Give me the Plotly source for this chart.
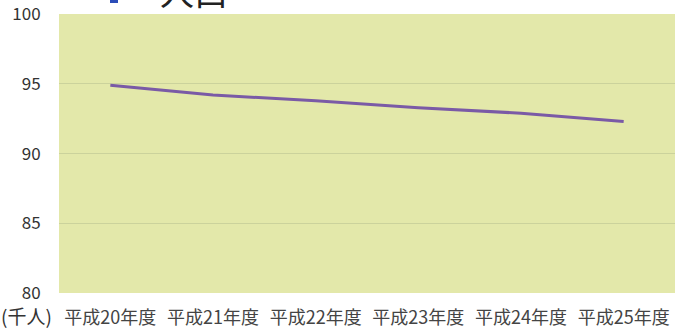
import plotly.graph_objects as go

categories = ["平成20年度", "平成21年度", "平成22年度", "平成23年度", "平成24年度", "平成25年度"]
population = [94.9, 94.2, 93.8, 93.3, 92.9, 92.3]
y_ticks = [80, 85, 90, 95, 100]

FONT = "Noto Sans CJK JP"
PW, PH = 616, 279  # plot width/height in px (for paper-relative offsets)

fig = go.Figure()
fig.add_trace(go.Scatter(
    x=categories, y=population, mode="lines",
    line=dict(color="#7A5AA6", width=3),
    showlegend=False,
))

fig.update_layout(
    width=682, height=332,
    margin=dict(l=59, r=7, t=14, b=39, autoexpand=False),
    paper_bgcolor="#FFFFFF",
    plot_bgcolor="#E3E8AA",
    font=dict(family=FONT, color="#333333"),
    xaxis=dict(
        type="category", automargin=False,
        showgrid=False, zeroline=False, showline=False,
        ticks="outside", ticklen=8, tickcolor="rgba(0,0,0,0)",
        tickfont=dict(size=18, color="#444444"),
        range=[-0.5, len(categories) - 0.5],
    ),
    yaxis=dict(
        range=[80, 100.02], tickvals=y_ticks, automargin=False,
        showgrid=True, gridcolor="#CBD29C", gridwidth=1,
        zeroline=False, showline=False,
        ticks="outside", ticklen=14, tickcolor="rgba(0,0,0,0)",
        tickfont=dict(size=17, color="#333333"),
        ticklabeloverflow="allow",
    ),
    shapes=[
        dict(type="rect", xref="paper", yref="paper",
             x0=(110 - 59) / PW, x1=(118 - 59) / PW,
             y0=1 + (14 - 3) / PH, y1=1 + 20 / PH,
             line=dict(width=0), fillcolor="#2B4DB8", layer="above"),
    ],
    annotations=[
        dict(text="(千人)", xref="paper", yref="paper", x=-60 / PW, y=-22 / PH,
             xanchor="left", yanchor="middle", showarrow=False,
             font=dict(size=19, color="#333333", family=FONT)),
        dict(text="人口", xref="paper", yref="paper", x=(158 - 59) / PW, y=1.0 - 4 / PH,
             xanchor="left", yanchor="bottom", showarrow=False,
             font=dict(size=34, color="#222222", family=FONT)),
    ],
)

fig.write_html("out.html")
